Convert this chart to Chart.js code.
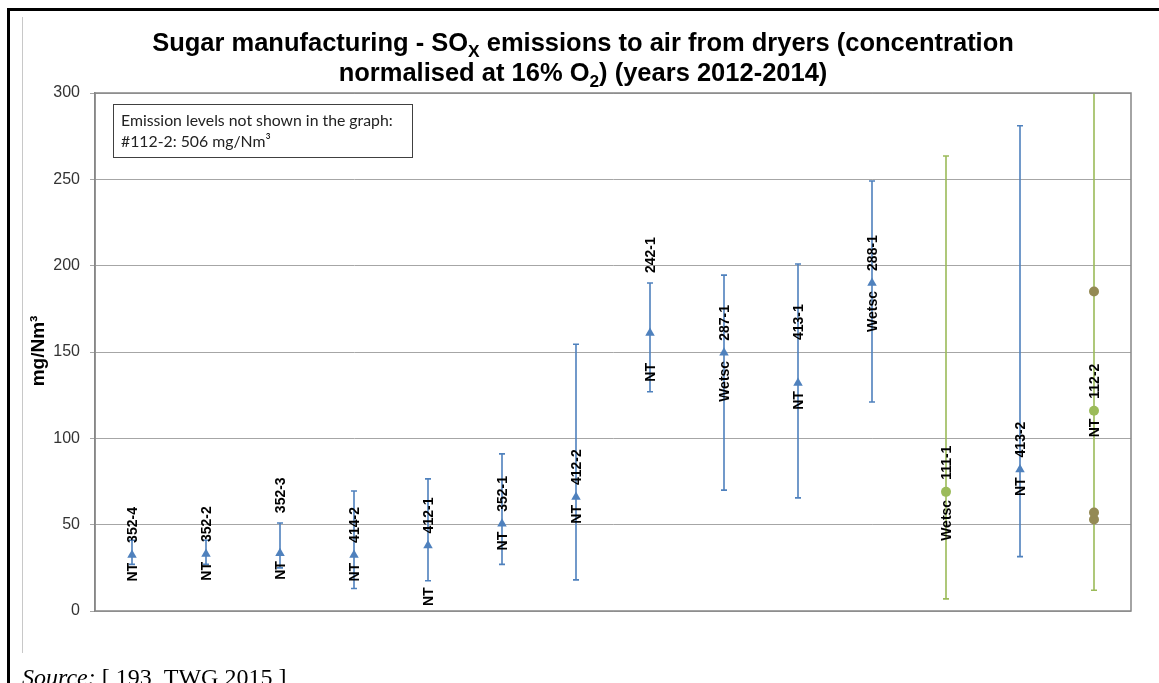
<!DOCTYPE html>
<html lang="en">
<head>
    <meta charset="UTF-8">
    <title>Sugar manufacturing - SOx emissions from dryers</title>
    <script src="https://cdn.jsdelivr.net/npm/chart.js"></script>
    <style>
        html, body { margin: 0; padding: 0; background: #fff; }
        canvas { display: block; }
    </style>
</head>
<body>
    <canvas id="soxChart" width="1159" height="683"></canvas>

    <script>
        // plant ids along the x axis
        const plantIds = ['352-4', '352-2', '352-3', '414-2', '412-1', '352-1', '412-2',
                          '242-1', '287-1', '413-1', '288-1', '111-1', '413-2', '112-2'];
        // abatement technique shown under each point
        const techniques = ['NT', 'NT', 'NT', 'NT', 'NT', 'NT', 'NT',
                            'NT', 'Wetsc', 'NT', 'Wetsc', 'Wetsc', 'NT', 'NT'];
        // averages (triangles = blue series, dots = green series)
        const avgTriangle = [32.5, 33, 33.5, 32.5, 38, 50.5, 66, 161, 149.5, 132, 190, null, 82, null];
        const avgDot      = [null, null, null, null, null, null, null, null, null, null, null, 69, null, 116];
        // min / max of the reported range
        const minValues = [27, 27, 25, 13, 17.5, 27, 18, 127, 70, 65.5, 121, 7, 31.5, 12];
        const maxValues = [41, 41, 51, 69.5, 76.5, 91, 154.5, 190, 194.5, 201, 249, 263.5, 281, 506];
        // single measurements for 112-2
        const extraPlant = '112-2';
        const extraValues = [185, 57, 53];
        const yTicks = [0, 50, 100, 150, 200, 250, 300];

        const BLUE = '#4f81bd';
        const GREEN = '#9bbb59';
        const OLIVE = '#948a54';

        // which series colour each error bar uses
        const barColour = avgDot.map(v => v === null ? BLUE : GREEN);

        // manual label nudges (px) where the original moved labels
        const labelNudge = {
            '242-1': { id: 60, tech: 30 },
            '352-3': { id: 40 },
            '412-1': { tech: 42 },
            '413-1': { id: 43 }
        };

        const extraSets = extraValues.map(v => plantIds.map(p => p === extraPlant ? v : null));

        function richLine(ctx, parts, cx, y, size) {
            let total = 0;
            parts.forEach(p => {
                ctx.font = 'bold ' + (p[1] ? size * 0.68 : size) + 'px "Liberation Sans", Arial';
                p.w = ctx.measureText(p[0]).width;
                total += p.w;
            });
            let x = cx - total / 2;
            parts.forEach(p => {
                ctx.font = 'bold ' + (p[1] ? size * 0.68 : size) + 'px "Liberation Sans", Arial';
                ctx.fillText(p[0], x, p[1] ? y + size * 0.25 : y);
                x += p.w;
            });
        }

        const decorPlugin = {
            id: 'decor',
            beforeDraw(chart) {
                const ctx = chart.ctx;
                ctx.save();
                ctx.fillStyle = '#fff';
                ctx.fillRect(0, 0, chart.width, chart.height);
                // page frame
                ctx.fillStyle = '#000';
                ctx.fillRect(7, 8, chart.width - 7, 3);
                ctx.fillRect(7, 8, 3, chart.height - 8);
                ctx.fillStyle = '#c8c8c8';
                ctx.fillRect(22, 17, 1, 636);
                ctx.restore();
            },
            beforeDatasetsDraw(chart) {
                const ctx = chart.ctx;
                const xs = chart.scales.x, ys = chart.scales.y, a = chart.chartArea;
                ctx.save();
                ctx.beginPath();
                ctx.rect(a.left, a.top, a.right - a.left, a.bottom - a.top);
                ctx.clip();
                ctx.lineWidth = 1.6;
                plantIds.forEach((id, i) => {
                    const x = xs.getPixelForValue(i);
                    const yLo = ys.getPixelForValue(minValues[i]);
                    const yHi = ys.getPixelForValue(maxValues[i]);
                    ctx.strokeStyle = barColour[i];
                    ctx.beginPath();
                    ctx.moveTo(x, yLo);
                    ctx.lineTo(x, yHi);
                    ctx.moveTo(x - 3, yLo);
                    ctx.lineTo(x + 3, yLo);
                    if (maxValues[i] <= ys.max) {
                        ctx.moveTo(x - 3, yHi);
                        ctx.lineTo(x + 3, yHi);
                    }
                    ctx.stroke();
                });
                ctx.restore();
            },
            afterDatasetsDraw(chart) {
                const ctx = chart.ctx;
                const xs = chart.scales.x, ys = chart.scales.y, a = chart.chartArea;
                ctx.save();
                // plot frame
                ctx.strokeStyle = '#868686';
                ctx.lineWidth = 1.5;
                ctx.strokeRect(a.left, a.top, a.right - a.left, a.bottom - a.top);

                // rotated point labels
                ctx.fillStyle = '#000';
                ctx.font = 'bold 14px "Liberation Sans", Arial';
                ctx.textBaseline = 'middle';
                plantIds.forEach((id, i) => {
                    const avg = avgTriangle[i] !== null ? avgTriangle[i] : avgDot[i];
                    const x = xs.getPixelForValue(i);
                    const y = ys.getPixelForValue(avg);
                    const n = labelNudge[id] || {};
                    ctx.save();
                    ctx.translate(x, y - (n.id || 12));
                    ctx.rotate(-Math.PI / 2);
                    ctx.textAlign = 'left';
                    ctx.fillText(id, 0, 1);
                    ctx.restore();
                    ctx.save();
                    ctx.translate(x, y + (n.tech || 8));
                    ctx.rotate(-Math.PI / 2);
                    ctx.textAlign = 'right';
                    ctx.fillText(techniques[i], 0, 1);
                    ctx.restore();
                });

                // note box
                ctx.fillStyle = '#fff';
                ctx.fillRect(113, 104, 299, 53);
                ctx.strokeStyle = '#404040';
                ctx.lineWidth = 1;
                ctx.strokeRect(113.5, 104.5, 299, 53);
                ctx.fillStyle = '#222';
                ctx.textAlign = 'left';
                ctx.textBaseline = 'alphabetic';
                ctx.font = '15.8px Lato, "Open Sans", sans-serif';
                ctx.fillText('Emission levels not shown in the graph:', 121, 126);
                ctx.fillText('#112-2: 506 mg/Nm\u00b3', 121, 147);

                // title
                ctx.fillStyle = '#000';
                richLine(ctx, [['Sugar manufacturing - SO'], ['X', true],
                               [' emissions to air from dryers (concentration']], 583, 51, 25.5);
                richLine(ctx, [['normalised at 16% O'], ['2', true],
                               [') (years 2012-2014)']], 583, 81, 25.5);

                // y axis title
                ctx.save();
                ctx.translate(39, 351);
                ctx.rotate(-Math.PI / 2);
                ctx.textAlign = 'center';
                ctx.textBaseline = 'middle';
                ctx.font = 'bold 19px "Liberation Sans", Arial';
                ctx.fillText('mg/Nm\u00b3', 0, 0);
                ctx.restore();

                // source line
                ctx.fillStyle = '#000';
                ctx.font = 'italic 24px "Liberation Serif", "Times New Roman", serif';
                ctx.fillText('Source:', 22, 685);
                const w = ctx.measureText('Source: ').width;
                ctx.font = '24px "Liberation Serif", "Times New Roman", serif';
                ctx.fillText('[ 193, TWG 2015 ]', 22 + w, 685);
                ctx.restore();
            }
        };

        new Chart(document.getElementById('soxChart').getContext('2d'), {
            type: 'line',
            data: {
                labels: plantIds,
                datasets: [
                    {
                        label: 'Average (triangle)',
                        data: avgTriangle,
                        showLine: false,
                        pointStyle: 'triangle',
                        pointRadius: 5.5,
                        backgroundColor: BLUE,
                        borderColor: BLUE,
                        borderWidth: 0
                    },
                    {
                        label: 'Average (dot)',
                        data: avgDot,
                        showLine: false,
                        pointStyle: 'circle',
                        pointRadius: 5,
                        backgroundColor: GREEN,
                        borderColor: GREEN,
                        borderWidth: 0
                    },
                    ...extraSets.map((d, k) => ({
                        label: 'Measurement ' + (k + 1),
                        data: d,
                        showLine: false,
                        pointStyle: 'circle',
                        pointRadius: 5,
                        backgroundColor: OLIVE,
                        borderColor: OLIVE,
                        borderWidth: 0
                    }))
                ]
            },
            options: {
                responsive: false,
                animation: false,
                events: [],
                layout: { padding: { left: 0, top: 93, right: 28, bottom: 72 } },
                plugins: {
                    legend: { display: false },
                    title: { display: false },
                    tooltip: { enabled: false }
                },
                scales: {
                    x: {
                        type: 'category',
                        offset: true,
                        grid: { display: false },
                        border: { display: false },
                        ticks: { display: false },
                        afterFit(s) { s.height = 0; }
                    },
                    y: {
                        min: 0,
                        max: 300,
                        afterBuildTicks(s) { s.ticks = yTicks.map(v => ({ value: v })); },
                        afterFit(s) { s.width = 95; },
                        grid: { color: '#a6a6a6', lineWidth: 1, tickLength: 5 },
                        border: { color: '#868686', width: 1.5 },
                        ticks: {
                            color: '#333',
                            padding: 10,
                            font: { family: '"Liberation Sans", Arial', size: 16 }
                        }
                    }
                }
            },
            plugins: [decorPlugin]
        });
    </script>
</body>
</html>
